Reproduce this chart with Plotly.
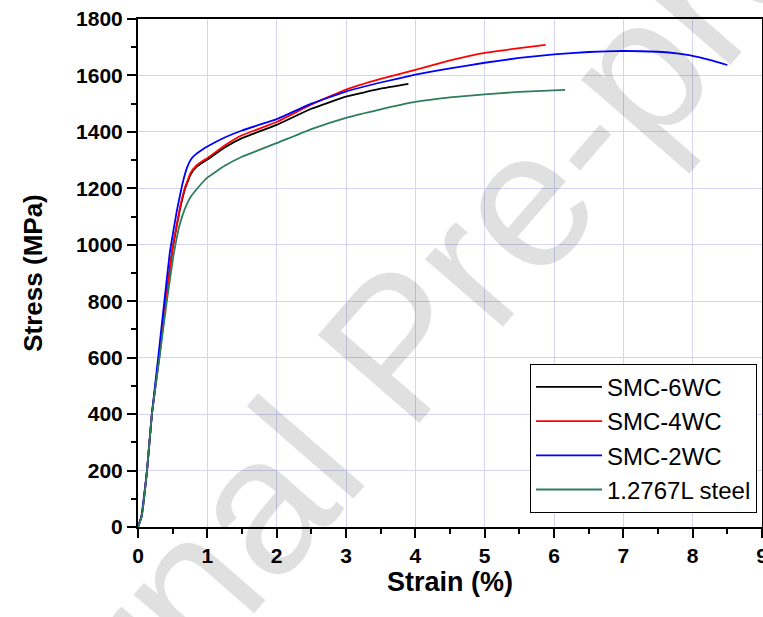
import plotly.graph_objects as go

# Engineering stress-strain curves
strain_6wc = [0, 0.05, 0.13, 0.2, 0.31, 0.4, 0.5, 0.6, 0.68, 0.76, 0.84, 0.92, 1.0, 1.25, 1.5, 2.0, 2.5, 3.0, 3.5, 3.9]
stress_6wc = [0, 35, 200, 400, 610, 800, 990, 1120, 1200, 1250, 1275, 1290, 1302, 1345, 1378, 1425, 1482, 1525, 1553, 1570]

strain_4wc = [0, 0.05, 0.13, 0.2, 0.31, 0.4, 0.5, 0.6, 0.68, 0.76, 0.84, 0.92, 1.0, 1.25, 1.5, 2.0, 2.5, 3.0, 3.5, 4.0, 4.5,
              5.0, 5.5, 5.88]
stress_4wc = [0, 35, 200, 400, 610, 800, 990, 1125, 1205, 1255, 1280, 1295, 1307, 1352, 1388, 1435, 1497, 1550, 1588, 1620,
              1653, 1680, 1697, 1708]

strain_2wc = [0, 0.05, 0.13, 0.2, 0.3, 0.38, 0.46, 0.56, 0.64, 0.71, 0.77, 0.84, 0.92, 1.0, 1.25, 1.5, 2.0, 2.5, 3.0, 3.5,
              4.0, 4.5, 5.0, 5.5, 6.0, 6.5, 7.0, 7.5, 7.8, 8.1, 8.3, 8.5]
stress_2wc = [0, 40, 200, 400, 620, 800, 975, 1120, 1215, 1275, 1305, 1322, 1336, 1348, 1380, 1405, 1445, 1500, 1543, 1575,
              1603, 1625, 1645, 1662, 1675, 1683, 1687, 1684, 1677, 1664, 1652, 1637]

strain_steel = [0, 0.05, 0.13, 0.2, 0.31, 0.41, 0.51, 0.6, 0.68, 0.76, 0.84, 0.92, 1.0, 1.25, 1.5, 2.0, 2.5, 3.0, 3.5, 4.0,
                4.5, 5.0, 5.5, 6.16]
stress_steel = [0, 35, 200, 400, 600, 790, 960, 1070, 1130, 1170, 1195, 1218, 1238, 1280, 1312, 1360, 1410, 1450, 1480, 1506,
                1522, 1533, 1542, 1549]

series = [
    ("SMC-6WC", strain_6wc, stress_6wc, "#000000"),
    ("SMC-4WC", strain_4wc, stress_4wc, "#FF0000"),
    ("SMC-2WC", strain_2wc, stress_2wc, "#0000FF"),
    ("1.2767L steel", strain_steel, stress_steel, "#2E7D5B"),
]

x_ticks = list(range(0, 10))
y_ticks = list(range(0, 1801, 200))

FONT = "Liberation Sans, Arial, sans-serif"

fig = go.Figure()
for name, xs, ys, color in series:
    fig.add_trace(go.Scatter(
        x=xs, y=ys, name=name, mode="lines",
        line=dict(color=color, width=1.8, shape="spline", smoothing=0.25),
    ))

axis_common = dict(
    showline=True, linecolor="black", linewidth=2, mirror=True,
    ticks="outside", ticklen=9, tickwidth=2, tickcolor="black",
    showgrid=True, gridcolor="#D4D4F2", gridwidth=1,
    zeroline=False, automargin=False, ticklabeloverflow="allow",
    tickfont=dict(family=FONT, size=21, color="black", weight="bold"),
)

fig.update_xaxes(
    range=[0, 9], tickvals=x_ticks, ticktext=[str(v) for v in x_ticks],
    minor=dict(dtick=0.5, ticklen=5, tickwidth=2, tickcolor="black", ticks="outside", showgrid=False),
    title=dict(text="Strain (%)", font=dict(family=FONT, size=27, color="black", weight="bold"), standoff=4),
    **axis_common,
)
fig.update_yaxes(
    range=[0, 1800], tickvals=y_ticks, ticktext=[str(v) for v in y_ticks],
    minor=dict(dtick=100, ticklen=5, tickwidth=2, tickcolor="black", ticks="outside", showgrid=False),
    title=dict(text="Stress (MPa)", font=dict(family=FONT, size=26, color="black", weight="bold"), standoff=26),
    **axis_common,
)

fig.add_annotation(
    text="Journal Pre-proof", xref="paper", yref="paper", x=0.415, y=0.358,
    showarrow=False, textangle=-49,
    font=dict(family=FONT, size=195, color="rgba(0,0,0,0.12)"),
)

fig.update_layout(
    width=763, height=617,
    margin=dict(l=138, r=1, t=19, b=90),
    paper_bgcolor="white", plot_bgcolor="white",
    showlegend=True,
    legend=dict(
        x=0.992, y=0.028, xanchor="right", yanchor="bottom",
        bordercolor="black", borderwidth=1, bgcolor="white",
        font=dict(family=FONT, size=24, color="black"),
        itemwidth=66, tracegroupgap=0,
    ),
)

fig.write_html("out.html")
